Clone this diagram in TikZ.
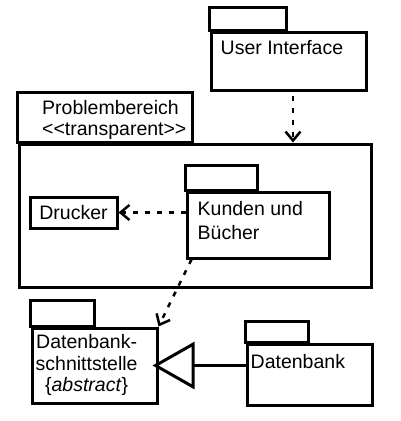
\documentclass[tikz,border=0pt]{standalone}
\usepackage{fontspec}
\setmainfont{Liberation Sans}
\usetikzlibrary{arrows.meta}
\tikzset{
  pkg/.style={draw,line width=3pt,inner sep=0pt},
  lbl/.style={inner sep=0pt},
  dep/.style={line width=2.5pt,dash pattern=on 5pt off 7pt,-{Straight Barb[length=9pt,width=15pt]}},
  inh/.style={line width=3pt,-{Triangle[open,length=42pt,width=47pt]},shorten >=-6pt}
}
\newcommand\pkgtab[3]{\draw[line width=3pt] (#1.north west) rectangle ++(#2,-#3);}
\begin{document}
\begin{tikzpicture}[x=1pt,y=-1pt,font=\fontsize{19.5}{23}\selectfont]
\useasboundingbox (0,0) rectangle (400,421);
% packages
\node[pkg,minimum width=155pt,minimum height=58pt] (ui) at (288.5,61) {};\pkgtab{ui}{77}{23}
\node[lbl,anchor=base west] (uitxt) at ([shift={(11,24)}]ui.north west) {User Interface};
\node[pkg,minimum width=352pt,minimum height=143pt] (pb) at (195,215.5) {};\pkgtab{pb}{175}{50}
\node[lbl,anchor=base west,align=left,font=\fontsize{19.5}{21}\selectfont] (pbtxt) at (42,135) {Problembereich\\<\kern0pt<transparent>\kern0pt>};
\node[pkg,minimum width=142pt,minimum height=66pt] (kub) at (258,225) {};\pkgtab{kub}{72}{25}
\node[lbl,anchor=base west,align=left,font=\fontsize{19.5}{24}\selectfont] (kubtxt) at ([shift={(12,49)}]kub.north west) {Kunden und\\Bücher};
\node[pkg,minimum width=87pt,minimum height=31pt] (dru) at (73.5,212.5) {Drucker};
\node[pkg,minimum width=125pt,minimum height=75pt] (dbs) at (94.5,365.5) {};\pkgtab{dbs}{64}{26}
\node[lbl,anchor=base west,align=center,font=\fontsize{19.5}{21.5}\selectfont] (dbstxt) at ([shift={(5,65)}]dbs.north west) {Datenbank-\\schnittstelle\\\{\textit{abstract}\}};
\node[pkg,minimum width=125pt,minimum height=61pt] (db) at (309.5,374.5) {};\pkgtab{db}{63}{21}
\node[lbl,anchor=base west] (dbtxt) at ([shift={(5,26)}]db.north west) {Datenbank};
% dependencies
\coordinate (uiout) at ([xshift=4.5pt]ui.south);\coordinate (kubout) at ([xshift=6pt]kub.south west);
\draw[dep,shorten <=4pt] (uiout) -- (uiout |- pb.north);
\draw[dep] (kub.west |- dru.east) -- (dru.east);
\draw[dep] (kubout) -- (dbs.north east);
\draw[inh] (db.west |- dbs.east) -- (dbs.east);
\end{tikzpicture}
\end{document}
